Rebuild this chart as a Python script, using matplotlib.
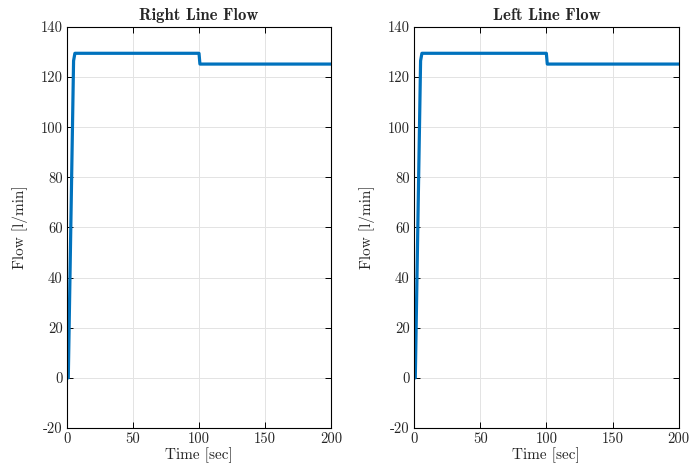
import matplotlib
matplotlib.use('Agg')
import matplotlib.pyplot as plt

# Flow data
time = [0, 1, 5, 6, 100, 100.7, 200]
right_flow = [0, 0, 126.5, 129.5, 129.5, 125.2, 125.2]
left_flow = [0, 0, 126.5, 129.5, 129.5, 125.2, 125.2]

titles = ['Right Line Flow', 'Left Line Flow']
flows = [right_flow, left_flow]

plt.rcParams['font.family'] = 'cmr10'
plt.rcParams['mathtext.fontset'] = 'cm'
plt.rcParams['axes.formatter.use_mathtext'] = False
plt.rcParams['axes.unicode_minus'] = False

fig = plt.figure(figsize=(6.94, 4.70), dpi=100)
positions = [[0.0965, 0.0894, 0.3805, 0.8532], [0.5965, 0.0894, 0.3815, 0.8532]]

for pos, title, flow in zip(positions, titles, flows):
    ax = fig.add_axes(pos)
    ax.plot(time, flow, color='#0072BD', linewidth=2.3)
    ax.set_xlim(0, 200)
    ax.set_ylim(-20, 140)
    ax.set_xticks([0, 50, 100, 150, 200])
    ax.set_yticks(range(-20, 141, 20))
    ax.grid(True, color='#e3e3e3', linewidth=0.7)
    ax.set_axisbelow(True)
    ax.tick_params(direction='in', top=True, right=True, labelsize=10.5,
                   length=4, width=0.7, pad=3, labelcolor='#262626')
    for s in ax.spines.values():
        s.set_linewidth(0.8)
    ax.set_title(title, fontsize=12, family='cmb10', pad=5, color='#262626')
    ax.set_xlabel('Time [sec]', fontsize=11, labelpad=1, color='#262626')
    ax.set_ylabel('Flow [l/min]', fontsize=11, labelpad=9, color='#262626')

fig.savefig('out.png', dpi=100)
